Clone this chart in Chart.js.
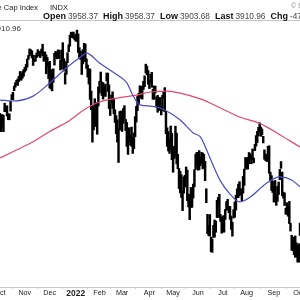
<!DOCTYPE html>
<html><head><meta charset="utf-8">
<script src="https://cdn.jsdelivr.net/npm/chart.js@4.4.0/dist/chart.umd.min.js"></script>
<style>html,body{margin:0;padding:0;background:#fff;overflow:hidden}#wrap{width:300px;height:300px;position:relative}</style>
</head><body><div id="wrap"><canvas id="c" width="300" height="300"></canvas></div>
<script>
// Trading-day index 0 = 1 Oct 2021; first bar is 30 Sep 2021 (index -1)
const firstDay = -1;
const highs = [
 4382,
 // Oct 2021
 4375,4355,4369,4365,4429,4412,4416,4374,4372,4439,4475,4488,4520,4539,4551,4559,4572,4598,4584,4597,4608,
 // Nov
 4620,4635,4664,4683,4718,4714,4708,4685,4664,4684,4697,4714,4701,4705,4717,4743,4701,4702,4686,4672,4646,
 // Dec
 4652,4595,4608,4612,4695,4705,4695,4713,4711,4660,4712,4751,4666,4591,4651,4698,4740,4791,4807,4804,4808,4787,
 // Jan 2022
 4797,4818,4797,4725,4707,4673,4714,4748,4744,4665,4632,4612,4611,4494,4417,4411,4453,4428,4432,4516,
 // Feb
 4546,4595,4542,4539,4522,4531,4590,4589,4527,4426,4472,4490,4456,4394,4363,4341,4294,4385,4388,
 // Mar
 4378,4401,4416,4343,4327,4276,4299,4260,4302,4247,4271,4358,4412,4465,4481,4522,4501,4520,4546,4575,4637,4627,4603,
 // Apr
 4549,4583,4593,4503,4521,4520,4464,4471,4453,4460,4410,4471,4488,4512,4385,4299,4278,4240,4308,4269,
 // May
 4169,4200,4307,4270,4157,4082,4067,4049,3964,4038,4046,4090,4073,3945,3943,3981,3955,3999,4076,4158,4168,
 // Jun
 4166,4177,4143,4168,4164,4157,4120,3974,3838,3778,3837,3717,3707,3779,3808,3802,3913,3928,3945,3837,3818,
 // Jul
 3829,3832,3864,3906,3918,3880,3880,3829,3796,3863,3903,3940,3974,3999,4012,3975,3953,4040,4078,4140,
 // Aug
 4140,4140,4167,4161,4151,4186,4137,4211,4257,4280,4301,4325,4302,4292,4253,4181,4159,4156,4200,4203,4062,4044,4015,
 // Sep
 3966,4018,3942,3987,4010,4077,4119,4063,3956,3952,3870,3900,3876,3907,3790,3727,3715,3717,3723,3687,3672,
 // Oct
 3682,3791
];
const lows = [
 4306,
 4288,4278,4304,4278,4384,4386,4361,4342,4341,4387,4448,4447,4496,4514,4526,4524,4544,4569,4551,4562,4573,
 4595,4604,4621,4662,4681,4694,4670,4630,4650,4653,4672,4679,4684,4672,4694,4682,4652,4659,4586,4625,4560,
 4510,4505,4495,4540,4632,4674,4665,4671,4666,4606,4611,4649,4600,4531,4583,4645,4703,4733,4780,4778,4775,4766,
 4758,4774,4699,4671,4662,4582,4638,4702,4650,4614,4568,4531,4449,4395,4222,4287,4305,4309,4264,4414,
 4483,4544,4470,4451,4471,4465,4548,4491,4401,4364,4429,4403,4373,4327,4267,4222,4114,4286,4315,
 4279,4322,4345,4284,4199,4157,4223,4206,4200,4162,4187,4251,4329,4390,4424,4470,4455,4451,4502,4517,4589,4581,4530,
 4507,4539,4514,4450,4450,4483,4408,4381,4392,4392,4367,4388,4455,4384,4267,4200,4175,4162,4189,4129,
 4062,4135,4147,4106,4081,3975,3952,3928,3858,3951,3983,4034,3911,3877,3810,3876,3875,3925,3985,4077,4101,
 4073,4075,4097,4110,4080,4107,4017,3900,3735,3725,3722,3639,3636,3715,3717,3743,3821,3889,3820,3800,3738,
 3745,3743,3811,3860,3863,3847,3812,3758,3722,3818,3823,3861,3927,3927,3938,3944,3910,3951,3992,4079,
 4079,4079,4107,4135,4107,4128,4112,4177,4201,4220,4256,4277,4253,4261,4218,4131,4124,4119,4147,4057,4017,3965,3954,
 3903,3906,3886,3907,3944,4022,4083,3937,3924,3885,3838,3839,3828,3789,3749,3647,3644,3623,3610,3610,3584,
 3584,3726
];
const monthTickDays = [0,21,42,64,84,103,126,146,167,188,208,231,252];
const monthLabels = ['Oct','Nov','Dec','2022','Feb','Mar','Apr','May','Jun','Jul','Aug','Sep','Oct'];
const ma50Days = [0,11,28,42,57,68,73,84,99,107,112,118,127,135,152,163,169,175,180,186,194,202,211,225,236,246,253];
const ma50 = [4446,4441,4467,4537,4622,4675,4696,4643,4579,4537,4473,4420,4414,4404,4340,4271,4250,4170,4095,4015,3946,3904,3930,4005,4037,4021,3984];
const ma200Days = [0,14,28,42,57,70,78,86,99,116,127,141,152,169,186,202,219,236,253];
const ma200 = [4138,4180,4224,4279,4330,4390,4420,4440,4456,4474,4489,4494,4483,4452,4404,4356,4322,4262,4196];
const titleName = 'S&P 500 Large Cap Index';
const titleExch = 'INDX';
const headerFields = [['Open','3958.37'],['High','3958.37'],['Low','3903.68'],['Last','3910.96'],['Chg','-47.41']];
const legendValue = '3910.96';
const credit = '\u00A9 StockCharts.com';

const barData = highs.map((h,i)=>({x:firstDay+i, y:[lows[i], h]}));
const ptsFrom = (d,v)=>d.map((x,i)=>({x, y:v[i]}));

const headerPlugin = {
  id:'header',
  afterDraw(chart){
    const ctx = chart.ctx, ca = chart.chartArea;
    ctx.save();
    ctx.strokeStyle = '#c4c4c4'; ctx.lineWidth = 1;
    ctx.beginPath(); ctx.moveTo(0, ca.top - 0.5); ctx.lineTo(300, ca.top - 0.5); ctx.stroke();
    ctx.textBaseline = 'alphabetic';
    ctx.fillStyle = '#222';
    ctx.font = '7.5px "Liberation Sans", Arial, sans-serif';
    ctx.textAlign = 'right'; ctx.fillText(titleName, 38, 9.5);
    ctx.textAlign = 'left'; ctx.fillText(titleExch, 50, 9.5);
    let x = 43;
    headerFields.forEach(([k,v])=>{
      ctx.font = 'bold 9px "Liberation Sans", Arial, sans-serif'; ctx.fillStyle = '#111';
      ctx.fillText(k, x, 18.5); x += ctx.measureText(k).width + 2;
      ctx.font = '8.3px "Liberation Sans", Arial, sans-serif'; ctx.fillStyle = '#444';
      ctx.fillText(v, x, 18.5); x += ctx.measureText(v).width + 5;
    });
    ctx.font = '7px "Liberation Sans", Arial, sans-serif'; ctx.fillStyle = '#888';
    ctx.fillText(credit, 291, 8);
    ctx.font = '8px "Liberation Sans", Arial, sans-serif'; ctx.fillStyle = '#333';
    ctx.textAlign = 'right'; ctx.fillText(legendValue, 21, 31);
    ctx.restore();
  }
};

new Chart(document.getElementById('c'), {
  type:'bar',
  data:{ datasets:[
    {type:'line', data:ptsFrom(ma50Days, ma50), borderColor:'#4b4bc4', borderWidth:1.2, pointRadius:0, cubicInterpolationMode:'monotone', fill:false},
    {type:'line', data:ptsFrom(ma200Days, ma200), borderColor:'#e2486c', borderWidth:1.2, pointRadius:0, cubicInterpolationMode:'monotone', fill:false},
    {type:'bar', data:barData, backgroundColor:'#000', borderWidth:0, barThickness:1.8, grouped:false}
  ]},
  options:{
    responsive:false, animation:false, devicePixelRatio:1,
    layout:{padding:{top:21,left:0,right:0,bottom:0}},
    plugins:{legend:{display:false}, tooltip:{enabled:false}},
    scales:{
      x:{type:'linear', min:0.08, max:253.0, offset:false,
         border:{display:true,color:'#c8c8c8',width:1},
         grid:{display:true, drawOnChartArea:false, drawTicks:true, tickLength:2, color:'#c8c8c8'},
         afterBuildTicks:(s)=>{ s.ticks = monthTickDays.map(v=>({value:v})); },
         afterFit:(s)=>{ s.height = 13; s.paddingLeft = 0; s.paddingRight = 0; },
         ticks:{autoSkip:false, maxRotation:0, minRotation:0, padding:0, color:'#222',
           callback:(v,i)=>monthLabels[i],
           font:(c)=> (c.tick && monthLabels[c.index]==='2022') ? {size:8.5, weight:'bold', family:'"Liberation Sans", Arial, sans-serif'} : {size:7.2, family:'"Liberation Sans", Arial, sans-serif'}
         }},
      y:{type:'linear', min:3451.6, max:4866.5, display:false}
    }
  },
  plugins:[headerPlugin]
});
</script></body></html>
